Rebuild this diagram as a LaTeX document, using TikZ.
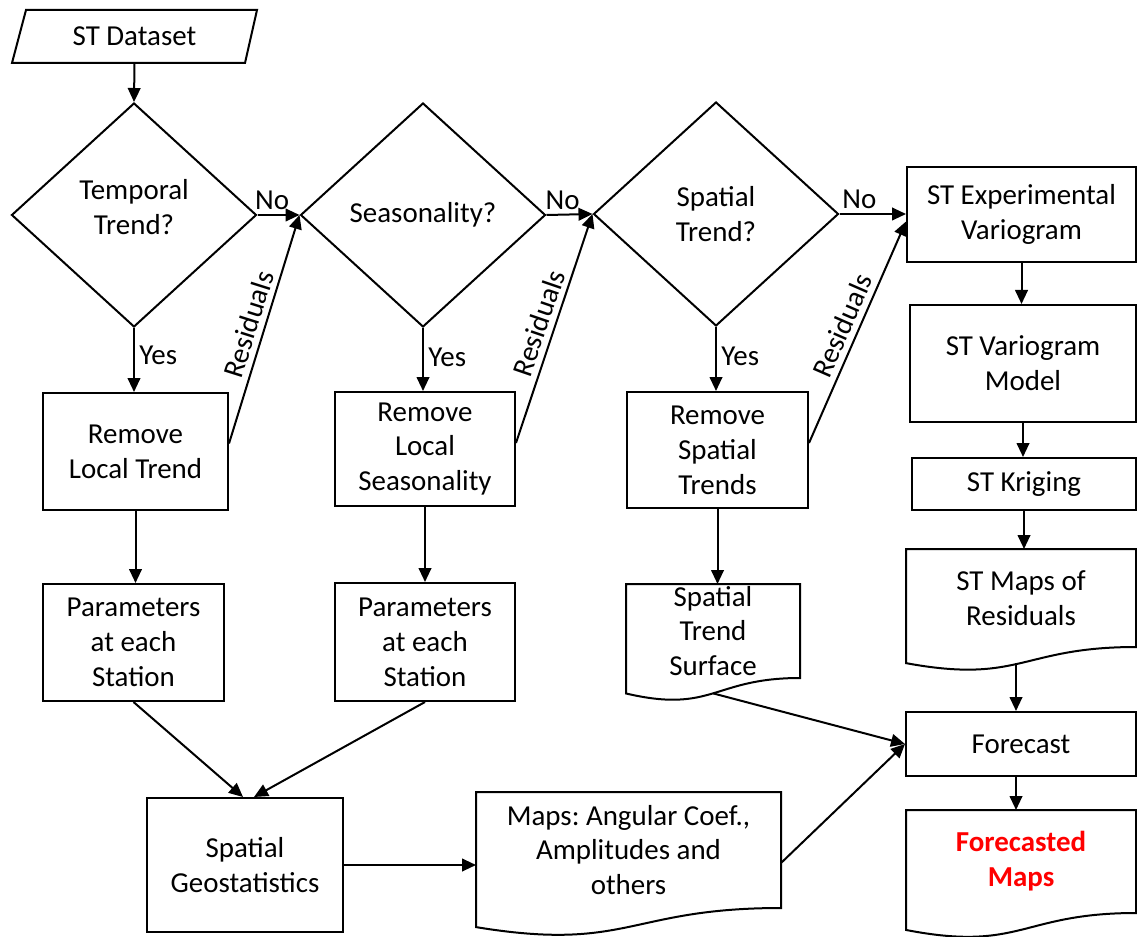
\documentclass[tikz,border=0pt]{standalone}
\usepackage{fontspec}
\setmainfont{Carlito}
\frenchspacing
\usetikzlibrary{shapes.geometric,arrows.meta,calc}
\newcommand\docoutline[2]{%
  \draw[outline] (#1.north west) -- (#1.north east) -- (#1.south east)
    .. controls (#1.south) and ($(#1.south)+(0,{#2*0.381})$) .. ($(#1.south west)+(0,{#2*0.1646})$) -- cycle;
  \coordinate (#1-b) at ($(#1.south)+(0,{#2*0.1633})$);}
\begin{document}
\begin{tikzpicture}[x=0.75pt,y=-0.75pt,
  every node/.style={font=\fontsize{21.7}{26.2}\selectfont},
  box/.style={draw, line width=1.5pt, align=center, inner sep=0pt},
  doc/.style={align=center, inner sep=0pt, outer sep=0pt},
  dia/.style={draw, diamond, line width=1.5pt, align=center, inner sep=0pt,
    minimum width=245*0.75pt, minimum height=224*0.75pt},
  arr/.style={-{Triangle[length=10.5pt,width=9.5pt]}, line width=1.5pt},
  outline/.style={line width=1.5pt, line join=miter},
  lbl/.style={inner sep=4pt, anchor=south}]
\useasboundingbox (0,0) rectangle (1137,937);

% input
\node[doc, minimum width=245*0.75pt, minimum height=53*0.75pt] (ds) at (134.5,36.5) {ST Dataset};
\draw[outline] ($(ds.north west)+(14,0)$) -- (ds.north east) -- ($(ds.south east)+(-12,0)$) -- (ds.south west) -- cycle;

% decisions
\node[dia] (d1) at (134,215) {};
\node[align=center, inner sep=0pt] (d1t) at (134,207) {Temporal\\Trend?};
\node[dia] (d2) at (423,215) {Seasonality?};
\node[dia] (d3) at (716,214) {Spatial\\Trend?};

% removal boxes
\node[box, minimum width=185*0.75pt, minimum height=117*0.75pt] (rlt) at (135.5,451.5) {Remove\\Local Trend};
\node[box, minimum width=180*0.75pt, minimum height=114*0.75pt] (rls) at (425,449) {Remove\\Local\\Seasonality};
\node[box, minimum width=181*0.75pt, minimum height=116*0.75pt] (rst) at (717.5,450) {Remove\\Spatial\\Trends};

% parameter boxes
\node[box, minimum width=181*0.75pt, minimum height=117*0.75pt] (p1) at (133.5,642.5) {Parameters\\at each\\Station};
\node[box, minimum width=180*0.75pt, minimum height=118*0.75pt] (p2) at (425,642) {Parameters\\at each\\Station};
\node[box, minimum width=196*0.75pt, minimum height=134*0.75pt] (sg) at (245,865) {Spatial\\Geostatistics};

% documents
\node[doc, minimum width=174*0.75pt, minimum height=94*0.75pt] (sts) at (713,631) {Spatial\\Trend\\Surface};
\docoutline{sts}{94}
\node[doc, minimum width=305*0.75pt, minimum height=116*0.75pt] (maps) at (628.5,850) {Maps: Angular Coef.,\\Amplitudes and\\others};
\docoutline{maps}{116}

% right column
\node[box, minimum width=229*0.75pt, minimum height=95*0.75pt] (exp) at (1021.5,214.5) {ST Experimental\\Variogram};
\node[box, minimum width=226*0.75pt, minimum height=117*0.75pt] (mod) at (1023,363.5) {ST Variogram\\Model};
\node[box, minimum width=224*0.75pt, minimum height=52*0.75pt] (krig) at (1024,484) {ST Kriging};
\node[doc, minimum width=230*0.75pt, minimum height=98*0.75pt] (stm) at (1021,598) {ST Maps of\\Residuals};
\docoutline{stm}{98}
\node[box, minimum width=230*0.75pt, minimum height=64*0.75pt] (fc) at (1021,744) {Forecast};
\node[doc, minimum width=230*0.75pt, minimum height=103*0.75pt, text=red,
  font=\fontsize{21.7}{26.2}\selectfont\bfseries] (fm) at (1021,861.5) {Forecasted\\Maps};
\docoutline{fm}{103}

% connectors
\draw[arr] (ds.south) -- (d1.north);
\draw[arr] (d1.east) -- node[above, pos=0.35]{No} (d2.west);
\draw[arr] (d2.east) -- node[above, pos=0.35]{No} (d3.west);
\draw[arr] (d3.east) -- node[above, pos=0.3]{No} (d3.east -| exp.west);

\draw[arr] (d1.south) -- node[right, pos=0.42]{Yes} (d1.south |- rlt.north);
\draw[arr] (d2.south) -- node[right, pos=0.46]{Yes} (d2.south |- rls.north);
\draw[arr] (d3.south) -- node[right, pos=0.46]{Yes} (d3.south |- rst.north);

\draw[arr] ($(rlt.east)+(0,-8)$) -- node[lbl, rotate=72.5, pos=0.5]{Residuals} (d2.west);
\draw[arr] ($(rls.east)+(0,-6)$) -- node[lbl, rotate=71.1, pos=0.5]{Residuals} (d3.west);
\draw[arr] ($(rst.east)+(0,-7)$) -- node[lbl, rotate=66.4, pos=0.5]{Residuals} ($(exp.west)+(0,7)$);

\draw[arr] (rlt.south) -- (rlt.south |- p1.north);
\draw[arr] (rls.south) -- (rls.south |- p2.north);
\draw[arr] (rst.south) -- (rst.south |- sts.north);

\draw[arr] (p1.south) -- ($(sg.north)+(-2,0)$);
\draw[arr] (p2.south) -- ($(sg.north)+(9,0)$);
\draw[arr] (sg.east) -- (sg.east -| maps.west);

\draw[arr] (sts-b) -- (fc.west);
\draw[arr] ($(maps.east)+(0,13)$) -- (fc.west);

\draw[arr] (exp.south) -- (exp.south |- mod.north);
\draw[arr] (mod.south) -- (mod.south |- krig.north);
\draw[arr] (krig.south) -- (krig.south |- stm.north);
\draw[arr] ($(stm-b)+(-5,0)$) -- ($(stm-b |- fc.north)+(-5,0)$);
\draw[arr] ($(fc.south)+(-5,0)$) -- ($(fc.south |- fm.north)+(-5,0)$);
\end{tikzpicture}
\end{document}
